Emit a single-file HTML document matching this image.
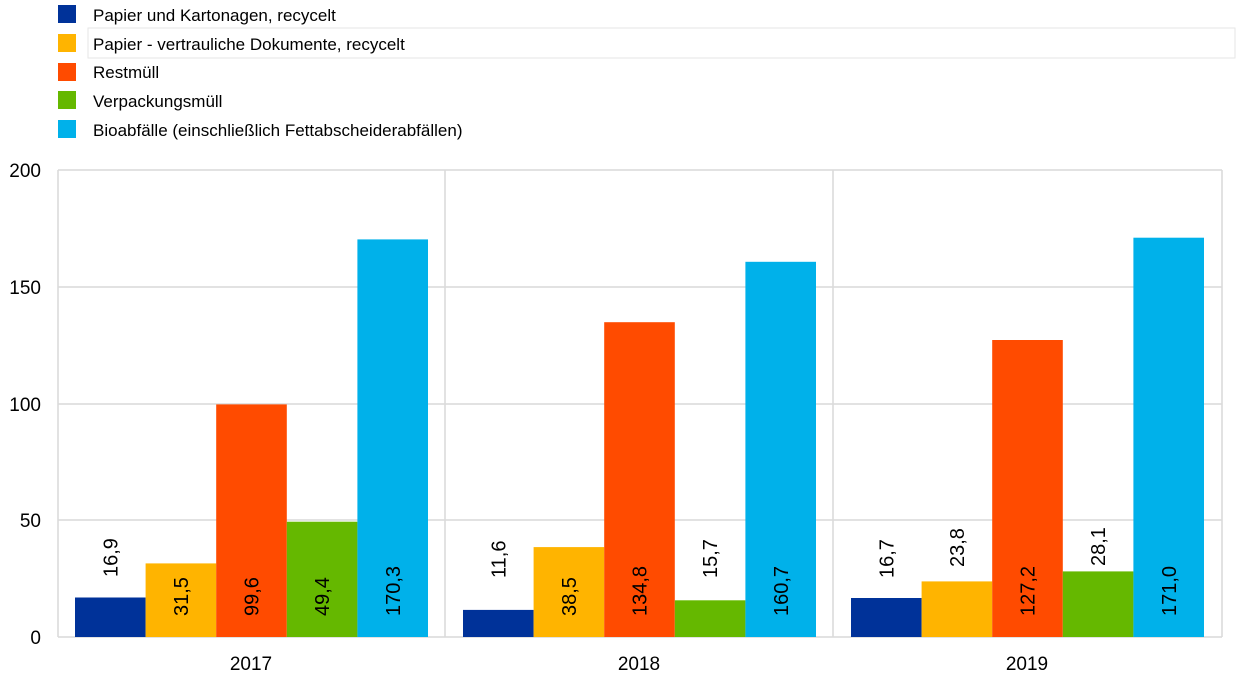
<!DOCTYPE html>
<html><head><meta charset="utf-8"><style>body{margin:0;background:#fff}svg{display:block;font-family:"Liberation Sans",sans-serif}</style></head><body>
<svg width="1240" height="683" viewBox="0 0 1240 683">
<rect x="88" y="28" width="1147" height="30" fill="none" stroke="#e6e6e6"/>
<g font-size="17" fill="#000">
<rect x="58" y="5" width="18" height="18" fill="#003299"/><text x="93" y="21">Papier und Kartonagen, recycelt</text>
<rect x="58" y="34" width="18" height="18" fill="#ffb400"/><text x="93" y="50">Papier - vertrauliche Dokumente, recycelt</text>
<rect x="58" y="63" width="18" height="18" fill="#ff4b00"/><text x="93" y="78">Restmüll</text>
<rect x="58" y="91" width="18" height="18" fill="#65b800"/><text x="93" y="107">Verpackungsmüll</text>
<rect x="58" y="120" width="18" height="18" fill="#00b1ea"/><text x="93" y="136">Bioabfälle (einschließlich Fettabscheiderabfällen)</text>
</g>
<g stroke="#d9d9d9" stroke-width="1.5">
<line x1="58" y1="170" x2="1222" y2="170"/><line x1="58" y1="287" x2="1222" y2="287"/><line x1="58" y1="404" x2="1222" y2="404"/><line x1="58" y1="520" x2="1222" y2="520"/>
<line x1="58" y1="170" x2="58" y2="637"/><line x1="445" y1="170" x2="445" y2="637"/><line x1="833" y1="170" x2="833" y2="637"/><line x1="1222" y1="170" x2="1222" y2="637"/>
<line x1="58" y1="637" x2="1222" y2="637"/>
</g>
<g font-size="19" text-anchor="end">
<text x="41" y="177">200</text><text x="41" y="294">150</text><text x="41" y="411">100</text><text x="41" y="527">50</text><text x="41" y="644">0</text>
</g>
<g font-size="19" text-anchor="middle"><text x="251" y="670">2017</text><text x="639" y="670">2018</text><text x="1027" y="670">2019</text></g>
<g>
<rect x="75" y="597.5" width="70.6" height="39.5" fill="#003299"/>
<rect x="145.6" y="563.4" width="70.6" height="73.6" fill="#ffb400"/>
<rect x="216.2" y="404.4" width="70.6" height="232.6" fill="#ff4b00"/>
<rect x="286.8" y="521.7" width="70.6" height="115.3" fill="#65b800"/>
<rect x="357.4" y="239.4" width="70.6" height="397.6" fill="#00b1ea"/>
<rect x="463" y="609.9" width="70.6" height="27.1" fill="#003299"/>
<rect x="533.6" y="547.1" width="70.6" height="89.9" fill="#ffb400"/>
<rect x="604.2" y="322.2" width="70.6" height="314.8" fill="#ff4b00"/>
<rect x="674.8" y="600.3" width="70.6" height="36.7" fill="#65b800"/>
<rect x="745.4" y="261.8" width="70.6" height="375.2" fill="#00b1ea"/>
<rect x="851" y="598" width="70.6" height="39" fill="#003299"/>
<rect x="921.6" y="581.4" width="70.6" height="55.6" fill="#ffb400"/>
<rect x="992.2" y="340" width="70.6" height="297" fill="#ff4b00"/>
<rect x="1062.8" y="571.4" width="70.6" height="65.6" fill="#65b800"/>
<rect x="1133.4" y="237.7" width="70.6" height="399.3" fill="#00b1ea"/>
</g>
<g font-size="20" fill="#000">
<text transform="translate(117.5,577) rotate(-90)">16,9</text>
<text transform="translate(188,616) rotate(-90)">31,5</text>
<text transform="translate(258.5,616) rotate(-90)">99,6</text>
<text transform="translate(329,616) rotate(-90)">49,4</text>
<text transform="translate(400,616) rotate(-90)">170,3</text>
<text transform="translate(505.5,578) rotate(-90)">11,6</text>
<text transform="translate(576,616) rotate(-90)">38,5</text>
<text transform="translate(646.5,616) rotate(-90)">134,8</text>
<text transform="translate(717,578) rotate(-90)">15,7</text>
<text transform="translate(788,616) rotate(-90)">160,7</text>
<text transform="translate(893.5,578) rotate(-90)">16,7</text>
<text transform="translate(964,567) rotate(-90)">23,8</text>
<text transform="translate(1034.5,616) rotate(-90)">127,2</text>
<text transform="translate(1105,566) rotate(-90)">28,1</text>
<text transform="translate(1176,616) rotate(-90)">171,0</text>
</g>
</svg>
</body></html>
